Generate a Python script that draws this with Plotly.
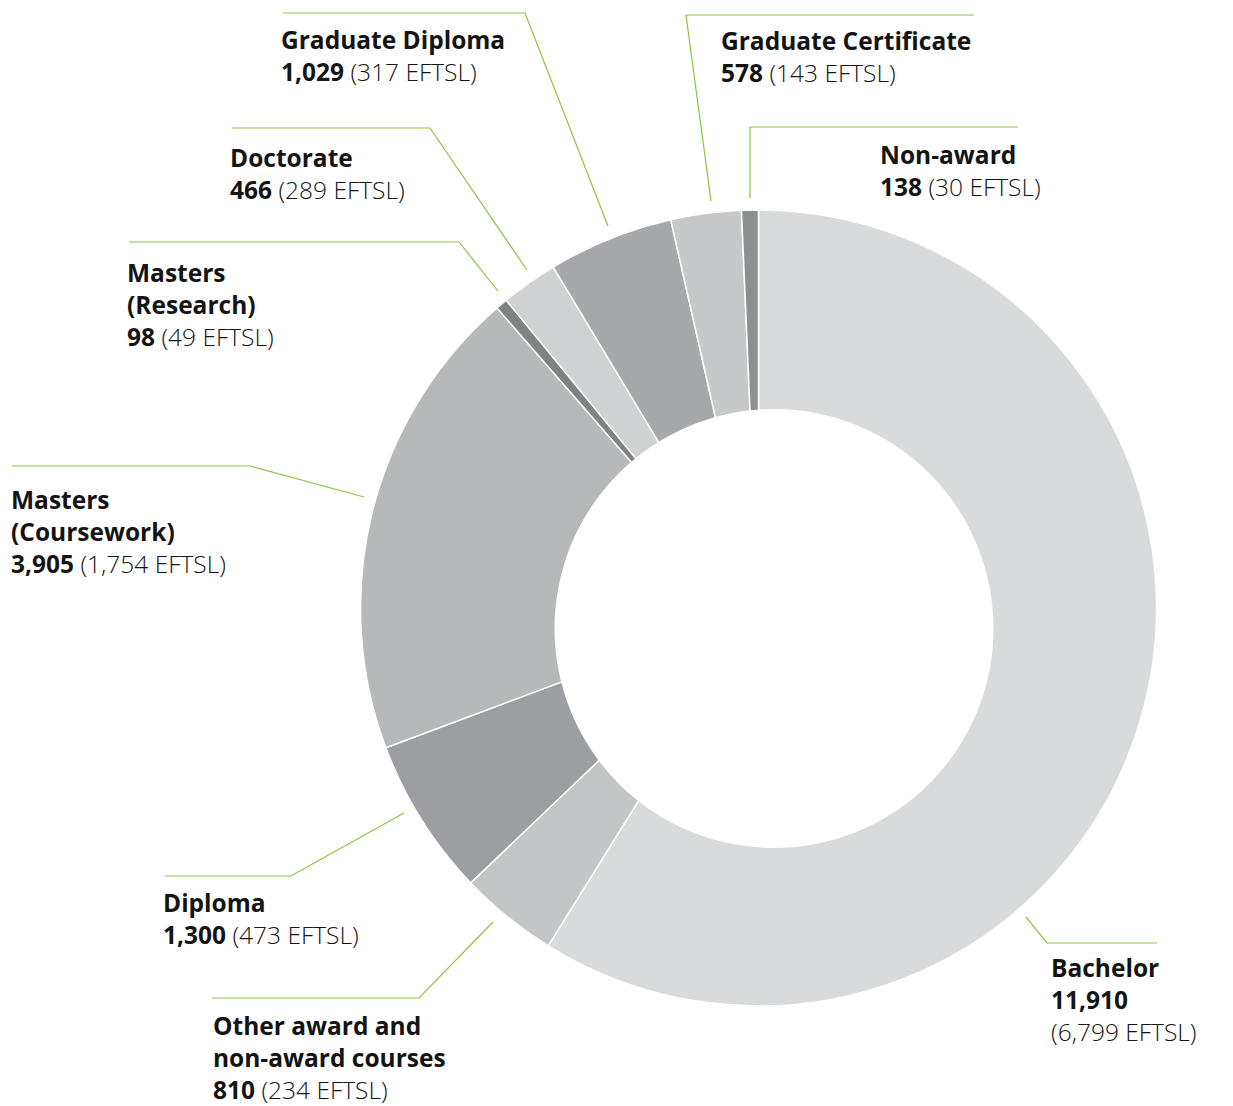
import plotly.graph_objects as go

# ---------------- data ----------------
categories = ["Bachelor", "Other award and non-award courses", "Diploma",
              "Masters (Coursework)", "Masters (Research)", "Doctorate",
              "Graduate Diploma", "Graduate Certificate", "Non-award"]
students = [11910, 810, 1300, 3905, 98, 466, 1029, 578, 138]
eftsl = [6799, 234, 473, 1754, 49, 289, 317, 143, 30]

# ---------------- styles ----------------
slice_colors = ["#d9dadc", "#c4c5c7", "#9d9ea1", "#b7b8ba", "#808285",
                "#d0d1d3", "#a7a8ab", "#c7c8ca", "#8e8f92"]
GREEN = "#8cc63f"
TEXT = "#141414"
W, H = 1233, 1106
CX, CY, R = 758.5, 608, 398          # outer circle (pixels)
HX, HY, HR = 774, 628.5, 219.5       # hole circle (pixels)
FONT = "Open Sans"
FS = 24.5

def px(x):
    return x / W

def py(y):
    return 1 - y / H

# label layout: display name, separator between number and EFTSL, x, block centre y
label_layout = {
    "Bachelor": ("Bachelor", "<br>", 1050, 999),
    "Other award and non-award courses": ("Other award and<br>non-award courses", " ", 212, 1057),
    "Diploma": ("Diploma", " ", 162, 918),
    "Masters (Coursework)": ("Masters<br>(Coursework)", " ", 10, 531),
    "Masters (Research)": ("Masters<br>(Research)", " ", 126, 304),
    "Doctorate": ("Doctorate", " ", 229, 173),
    "Graduate Diploma": ("Graduate Diploma", " ", 280, 55),
    "Graduate Certificate": ("Graduate Certificate", " ", 720, 57),
    "Non-award": ("Non-award", " ", 879, 171),
}

# leader line paths (pixels)
leaders = {
    "Bachelor": [(1026, 917), (1047, 943), (1157, 943)],
    "Other award and non-award courses": [(493, 922), (419, 998), (212, 998)],
    "Diploma": [(404, 813), (291, 876), (165, 876)],
    "Masters (Coursework)": [(364, 497), (250, 466), (12, 466)],
    "Masters (Research)": [(498, 291), (459, 242), (129, 242)],
    "Doctorate": [(527, 270), (430, 128), (232, 128)],
    "Graduate Diploma": [(608, 226), (525, 13), (283, 13)],
    "Graduate Certificate": [(711, 201), (686, 15), (974, 15)],
    "Non-award": [(750, 198), (750, 127), (1018, 127)],
}

fig = go.Figure(go.Pie(
    labels=categories,
    values=students,
    sort=False,
    direction="clockwise",
    rotation=0,
    hole=0,
    textinfo="none",
    marker=dict(colors=slice_colors, line=dict(color="white", width=1.5)),
    domain=dict(x=[px(CX - R), px(CX + R)], y=[py(CY + R), py(CY - R)]),
    showlegend=False,
    hoverinfo="label+value",
))

shapes = [dict(type="circle", xref="paper", yref="paper",
               x0=px(HX - HR), x1=px(HX + HR), y0=py(HY + HR), y1=py(HY - HR),
               fillcolor="white", line=dict(width=0), layer="above")]
for name, pts in leaders.items():
    path = "M " + " L ".join(f"{px(x)},{py(y)}" for x, y in pts)
    shapes.append(dict(type="path", xref="paper", yref="paper", path=path,
                       line=dict(color=GREEN, width=1.2), layer="above"))

annotations = []
for cat, n, e in zip(categories, students, eftsl):
    disp, sep, lx, ly = label_layout[cat]
    text = f"<b>{disp}</b><br><b>{n:,}</b>{sep}({e:,} EFTSL)"
    annotations.append(dict(
        text=text, x=px(lx), y=py(ly), xref="paper", yref="paper",
        xanchor="left", yanchor="middle", align="left", showarrow=False,
        borderpad=0,
        font=dict(family=FONT, size=FS, color=TEXT, weight=300),
    ))

fig.update_layout(
    width=W, height=H,
    margin=dict(l=0, r=0, t=0, b=0),
    paper_bgcolor="white", plot_bgcolor="white",
    shapes=shapes, annotations=annotations,
)

fig.write_html("out.html",
               config={"displayModeBar": False},
               post_script="document.body.style.margin='0';"
                           "document.body.style.overflow='hidden';")
